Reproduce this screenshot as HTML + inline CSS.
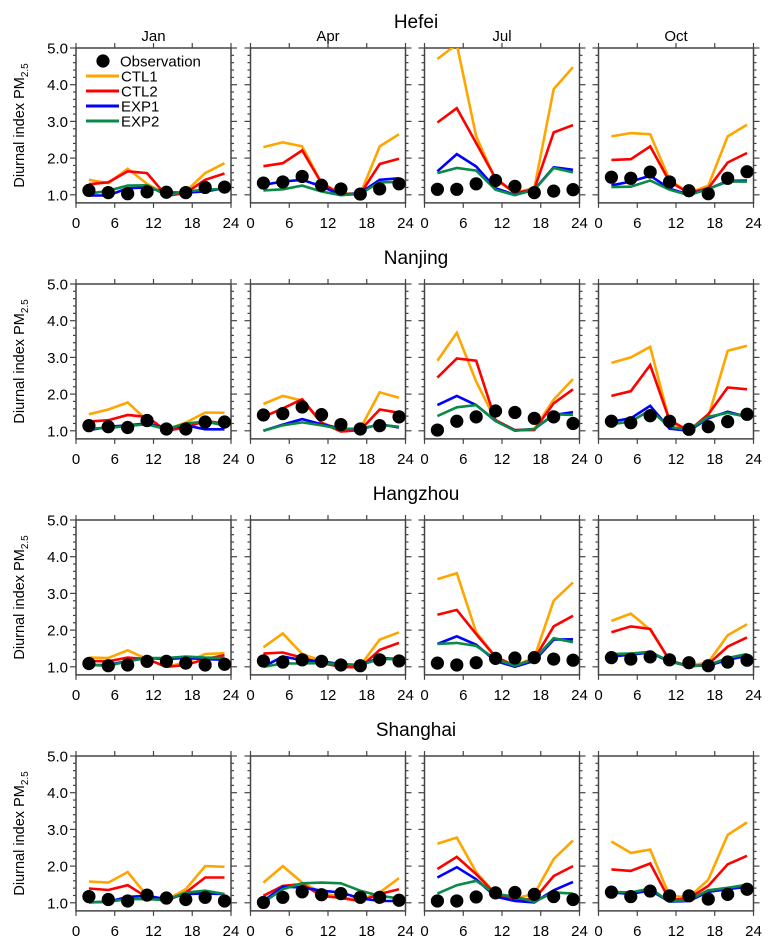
<!DOCTYPE html>
<html><head><meta charset="utf-8">
<style>
html,body{margin:0;padding:0;background:#fff;}
svg{display:block;font-family:"Liberation Sans",Arial,sans-serif;}
</style></head>
<body>
<svg id="chart" width="775" height="952" viewBox="0 0 775 952" xmlns="http://www.w3.org/2000/svg"></svg>
<script>
const stations = ["Hefei","Nanjing","Hangzhou","Shanghai"];
const months = ["Jan","Apr","Jul","Oct"];
const hours = [2,5,8,11,14,17,20,23];
const xTicks = [0,6,12,18,24];
const yTicks = [1.0,2.0,3.0,4.0,5.0];
const seriesNames = ["CTL1","CTL2","EXP1","EXP2"];
const seriesColors = ["#ffa500","#ff0000","#0000ff","#0a8a48"];
// values [station][month][hour index]
const ctl1 = [
 [[1.41,1.32,1.71,1.3,1.0,1.09,1.59,1.86],[2.3,2.43,2.32,1.32,1.05,1.02,2.32,2.65],[4.7,5.1,2.59,1.41,1.06,1.18,3.88,4.48],[2.59,2.68,2.65,1.41,1.05,1.25,2.59,2.91]],
 [[1.45,1.58,1.77,1.29,1.04,1.22,1.5,1.49],[1.73,1.95,1.82,1.22,1.04,1.06,2.05,1.9],[2.91,3.67,2.34,1.29,1.02,1.05,1.85,2.41],[2.85,3.0,3.29,1.25,1.0,1.38,3.18,3.32]],
 [[1.25,1.24,1.45,1.21,1.0,1.12,1.35,1.37],[1.53,1.91,1.35,1.16,1.03,1.03,1.74,1.94],[3.39,3.55,1.94,1.27,1.03,1.25,2.8,3.3],[2.25,2.45,2.01,1.18,1.03,1.12,1.86,2.16]],
 [[1.58,1.55,1.84,1.19,1.08,1.37,2.0,1.98],[1.55,2.0,1.55,1.28,1.15,1.08,1.28,1.67],[2.61,2.78,1.83,1.24,1.12,1.24,2.19,2.7],[2.67,2.36,2.45,1.19,1.15,1.63,2.85,3.19]]
];
const ctl2 = [
 [[1.29,1.34,1.64,1.59,0.97,1.05,1.41,1.58],[1.78,1.86,2.21,1.32,1.0,1.02,1.84,1.98],[2.97,3.36,2.41,1.45,1.05,1.15,2.7,2.9],[1.95,1.97,2.32,1.36,1.05,1.18,1.88,2.14]],
 [[1.25,1.29,1.43,1.38,1.0,1.09,1.27,1.2],[1.38,1.61,1.86,1.22,0.98,1.02,1.58,1.49],[2.45,2.97,2.91,1.29,1.02,1.02,1.75,2.13],[1.95,2.08,2.79,1.29,1.0,1.45,2.18,2.13]],
 [[1.16,1.15,1.25,1.21,1.0,1.05,1.21,1.32],[1.36,1.39,1.25,1.1,1.0,0.98,1.46,1.65],[2.42,2.55,1.89,1.27,1.03,1.21,2.1,2.39],[1.94,2.1,2.03,1.18,1.0,1.07,1.55,1.8]],
 [[1.39,1.35,1.48,1.15,1.05,1.28,1.69,1.69],[1.19,1.46,1.51,1.19,1.13,1.05,1.24,1.37],[1.92,2.25,1.78,1.24,1.08,1.1,1.73,2.0],[1.91,1.87,2.07,1.08,1.12,1.46,2.05,2.28]]
];
const exp1 = [
 [[0.98,0.98,1.18,1.2,1.06,1.06,1.09,1.18],[1.27,1.36,1.41,1.23,1.0,1.05,1.41,1.45],[1.64,2.11,1.77,1.18,1.0,1.14,1.75,1.68],[1.26,1.36,1.52,1.17,1.0,1.16,1.38,1.39]],
 [[1.02,1.11,1.15,1.2,1.06,1.15,1.04,1.04],[1.0,1.17,1.32,1.18,1.06,1.04,1.18,1.09],[1.7,1.95,1.7,1.27,1.01,1.05,1.43,1.51],[1.25,1.34,1.68,1.06,1.0,1.34,1.52,1.38]],
 [[1.05,1.05,1.16,1.24,1.21,1.24,1.21,1.19],[1.0,1.28,1.18,1.15,1.07,1.05,1.24,1.21],[1.62,1.83,1.6,1.16,1.0,1.16,1.74,1.75],[1.28,1.33,1.39,1.14,1.03,1.03,1.19,1.3]],
 [[1.01,1.03,1.16,1.19,1.1,1.24,1.25,1.24],[1.05,1.44,1.42,1.33,1.28,1.12,1.05,1.05],[1.69,1.97,1.64,1.17,1.05,1.01,1.34,1.57],[1.28,1.24,1.34,1.03,1.05,1.3,1.37,1.44]]
];
const exp2 = [
 [[1.03,1.11,1.25,1.26,0.99,1.09,1.14,1.16],[1.12,1.15,1.25,1.09,0.99,1.03,1.34,1.35],[1.59,1.73,1.66,1.14,0.99,1.14,1.73,1.61],[1.21,1.22,1.39,1.14,0.99,1.16,1.36,1.36]],
 [[1.06,1.08,1.13,1.18,1.04,1.2,1.25,1.15],[1.0,1.15,1.23,1.15,1.05,1.06,1.17,1.11],[1.4,1.64,1.7,1.27,1.0,1.05,1.45,1.43],[1.18,1.25,1.56,1.11,1.02,1.38,1.49,1.38]],
 [[1.05,1.03,1.15,1.24,1.24,1.28,1.25,1.24],[1.0,1.09,1.09,1.1,1.07,1.05,1.21,1.21],[1.62,1.65,1.57,1.21,1.03,1.21,1.78,1.67],[1.35,1.36,1.41,1.15,1.01,1.05,1.24,1.35]],
 [[1.01,1.03,1.1,1.1,1.07,1.28,1.33,1.24],[1.01,1.37,1.53,1.55,1.53,1.33,1.19,1.12],[1.25,1.48,1.6,1.24,1.17,1.03,1.28,1.25],[1.3,1.28,1.39,1.03,1.08,1.34,1.41,1.49]]
];
const obs = [
 [[1.12,1.06,1.03,1.08,1.07,1.06,1.2,1.21],[1.32,1.35,1.5,1.26,1.16,1.02,1.16,1.3],[1.15,1.15,1.3,1.39,1.23,1.06,1.1,1.14],[1.48,1.45,1.62,1.35,1.11,1.03,1.45,1.63]],
 [[1.14,1.11,1.09,1.28,1.05,1.05,1.24,1.24],[1.43,1.47,1.65,1.44,1.17,1.05,1.14,1.38],[1.02,1.26,1.38,1.54,1.5,1.34,1.38,1.2],[1.26,1.22,1.41,1.26,1.04,1.11,1.25,1.45]],
 [[1.09,1.03,1.05,1.15,1.15,1.1,1.05,1.07],[1.16,1.13,1.19,1.15,1.05,1.03,1.19,1.16],[1.1,1.05,1.11,1.23,1.24,1.25,1.21,1.18],[1.25,1.21,1.27,1.19,1.11,1.03,1.13,1.18]],
 [[1.17,1.09,1.05,1.21,1.13,1.09,1.15,1.05],[1.01,1.15,1.3,1.22,1.25,1.15,1.15,1.07],[1.05,1.05,1.16,1.27,1.28,1.23,1.17,1.09],[1.29,1.17,1.32,1.19,1.19,1.1,1.23,1.37]]
];

const NS="http://www.w3.org/2000/svg";
const svg=document.getElementById('chart');
function mk(tag,attrs,parent){const e=document.createElementNS(NS,tag);for(const k in attrs)e.setAttribute(k,attrs[k]);(parent||svg).appendChild(e);return e;}
const colX0=[76,250.5,424.5,598.5], PW=155;
const rowY0=[48,284,520,756];
const unitPx=36.7, yMin=0.78, yMax=5.0;
const PH=(yMax-yMin)*unitPx;
const allSeries=[ctl1,ctl2,exp1,exp2];

stations.forEach((st,r)=>{
  const t=mk('text',{x:416,y:rowY0[r]-20,'text-anchor':'middle','font-size':19,fill:'#000'});
  t.textContent=st;
  
  
  const yt=mk('text',{transform:`translate(24,${rowY0[r]+PH/2}) rotate(-90)`,'text-anchor':'middle','font-size':14.5,fill:'#000'});
  yt.innerHTML='Diurnal index PM<tspan font-size="10" dy="4">2.5</tspan>';
  
  
  months.forEach((mo,c)=>{
    const x0=colX0[c], y0=rowY0[r];
    const xs=h=>x0+h/24*PW;
    const ys=v=>y0+(yMax-v)*unitPx;
    const g=mk('g',{});
    
    
    const cid='clip'+r+c;
    const cp=mk('clipPath',{id:cid},g);
    mk('rect',{x:x0,y:y0,width:PW,height:PH},cp);
    if(r===0){
      const mt=mk('text',{x:x0+PW/2,y:y0-7,'text-anchor':'middle','font-size':15,fill:'#000'},g);
      mt.textContent=mo;
      
      
    }
    // ticks
    for(let v=1.0;v<=5.001;v+=0.2){
      const major=Math.abs(v-Math.round(v))<0.01;
      const L=major?6:3;
      mk('line',{x1:x0-L,x2:x0,y1:ys(v),y2:ys(v),stroke:'#444','stroke-width':1.2},g);
      mk('line',{x1:x0+PW,x2:x0+PW+L,y1:ys(v),y2:ys(v),stroke:'#444','stroke-width':1.2},g);
    }
    xTicks.forEach(h=>{
      mk('line',{x1:xs(h),x2:xs(h),y1:y0-5,y2:y0,stroke:'#444','stroke-width':1.2},g);
      mk('line',{x1:xs(h),x2:xs(h),y1:y0+PH,y2:y0+PH+5,stroke:'#444','stroke-width':1.2},g);
      const tl=mk('text',{x:xs(h),y:y0+PH+25,'text-anchor':'middle','font-size':15,fill:'#000'},g);
      tl.textContent=h;
      
      
    });
    if(c===0){
      yTicks.forEach(v=>{
        const tl=mk('text',{x:x0-8,y:ys(v)+5.5,'text-anchor':'end','font-size':15,fill:'#000'},g);
        tl.textContent=v.toFixed(1);
        
        
      });
    }
    const frame=mk('rect',{x:x0,y:y0,width:PW,height:PH,fill:'none',stroke:'#444','stroke-width':1.5},g);
    
    
    const pg=mk('g',{'clip-path':`url(#${cid})`},g);
    allSeries.forEach((s,si)=>{
      const pts=s[r][c].map((v,i)=>xs(hours[i]).toFixed(1)+','+ys(v).toFixed(1)).join(' ');
      const pl=mk('polyline',{points:pts,fill:'none',stroke:seriesColors[si],'stroke-width':2.6,'stroke-linejoin':'miter'},pg);
      
      
    });
    obs[r][c].forEach((v,i)=>{
      const d=mk('circle',{cx:xs(hours[i]),cy:ys(v),r:6.6,fill:'#000'},pg);
      
      
    });
  });
});
// legend
const lg=mk('g',{});


const ld=mk('circle',{cx:103,cy:61,r:6.6,fill:'#000'},lg);


const lt=mk('text',{x:120,y:66.5,'font-size':15,fill:'#000'},lg);
lt.textContent='Observation';


seriesNames.forEach((n,i)=>{
  const y=76+i*15;
  const l=mk('line',{x1:86,x2:119,y1:y,y2:y,stroke:seriesColors[i],'stroke-width':3},lg);
  
  
  const t=mk('text',{x:121,y:y+5.5,'font-size':15,fill:'#000'},lg);
  t.textContent=n;
  
  
});
</script>
</body></html>
